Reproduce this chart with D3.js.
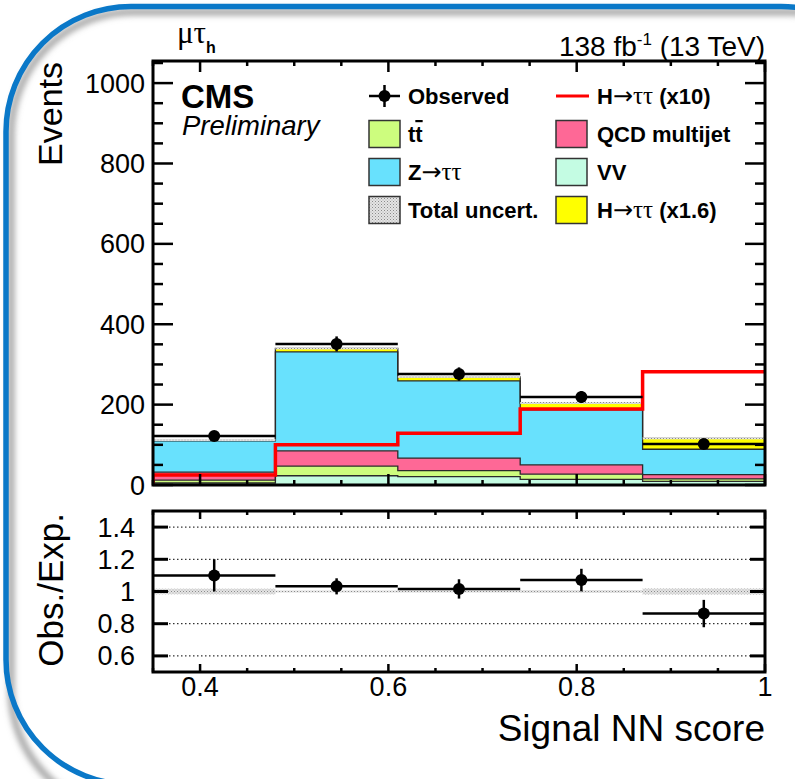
<!DOCTYPE html>
<html>
<head>
<meta charset="utf-8">
<script src="https://cdn.jsdelivr.net/npm/d3@7"></script>
<style>
  html, body { margin: 0; padding: 0; background: #fff; }
  svg { display: block; font-family: "Liberation Sans", Arial, sans-serif; }
</style>
</head>
<body>
<div id="chart"></div>
<script>
// bin edges of the signal NN score
const binEdges = [0.35, 0.48, 0.61, 0.74, 0.87, 1.0];

// stacked expectation per bin (events)
const vv     = [5, 23, 21, 14, 9];
const ttbar  = [7, 24, 15, 13, 6];
const qcd    = [20, 38, 31, 23, 11];
const ztt    = [78, 246, 192, 137, 63];
const higgs  = [2, 9, 10, 17, 27];     // H->tautau (x1.6), stacked
const higgsX10 = [25, 100, 129, 189, 282]; // H->tautau (x10), line
const relUnc = [0.02, 0.008, 0.008, 0.01, 0.02];

// observed
const observed = [122, 351, 276, 219, 102];

// ratio panel
const ratio    = [1.10, 1.032, 1.016, 1.071, 0.863];
const ratioErr = [0.10, 0.05, 0.06, 0.07, 0.085];
const ratioUnc = [0.017, 0.006, 0.006, 0.008, 0.018];

const yTicksMain  = [0, 200, 400, 600, 800, 1000];
const yTicksRatio = [0.6, 0.8, 1, 1.2, 1.4];
const xTicks      = [0.4, 0.6, 0.8, 1];

const colors = { VV: "#c4fce3", tt: "#cdfd7e", QCD: "#fe6896", Z: "#68e1fd", H: "#ffff00" };

const W = 795, H = 779;
const svg = d3.select("#chart").append("svg").attr("width", W).attr("height", H);
const defs = svg.append("defs");

// hatch pattern for the uncertainty
const pat = defs.append("pattern").attr("id", "hatch").attr("patternUnits", "userSpaceOnUse")
  .attr("width", 3).attr("height", 3);
pat.append("rect").attr("width", 3).attr("height", 3).attr("fill", "#e4e4e4");
pat.append("rect").attr("width", 1).attr("height", 1).attr("fill", "#8a8a8a");
pat.append("rect").attr("x", 1.5).attr("y", 1.5).attr("width", 1).attr("height", 1).attr("fill", "#a8a8a8");

// frame with shadow (runs off the right and bottom edges)
const blur = defs.append("filter").attr("id", "blur").attr("x", "-10%").attr("y", "-10%").attr("width", "120%").attr("height", "120%");
blur.append("feGaussianBlur").attr("stdDeviation", 3);
svg.append("rect").attr("x", 11).attr("y", 12).attr("width", 900).attr("height", 800).attr("rx", 122)
  .attr("fill", "none").attr("stroke", "#9a9a9a").attr("stroke-width", 6).attr("filter", "url(#blur)");
svg.append("rect").attr("x", 6).attr("y", 6.5).attr("width", 900).attr("height", 778).attr("rx", 125)
  .attr("fill", "none").attr("stroke", "#0a78c8").attr("stroke-width", 5.5);

const x0 = 153, x1 = 765;
const x = d3.scaleLinear().domain([0.35, 1.0]).range([x0, x1]);
const y = d3.scaleLinear().domain([0, 1055]).range([485, 61]);
const yr = d3.scaleLinear().domain([0.5, 1.5]).range([672, 511]);

const main = svg.append("g");
defs.append("clipPath").attr("id", "clipMain").append("rect")
  .attr("x", x0).attr("y", 61).attr("width", x1 - x0).attr("height", 485 - 61);
const plot = main.append("g").attr("clip-path", "url(#clipMain)");

// stack
const bins = binEdges.slice(0, -1).map((lo, i) => ({
  lo, VV: vv[i], tt: ttbar[i], QCD: qcd[i], Z: ztt[i], H: higgs[i]
}));
const keys = ["VV", "tt", "QCD", "Z", "H"];
const series = d3.stack().keys(keys)(bins);
const stepPts = s => s.map((d, i) => ({ x: bins[i].lo, y0: d[0], y1: d[1] }))
  .concat({ x: 1.0, y0: s[s.length - 1][0], y1: s[s.length - 1][1] });

const area = d3.area().x(d => x(d.x)).y0(d => y(d.y0)).y1(d => y(d.y1)).curve(d3.curveStepAfter);
const topLine = d3.line().x(d => x(d.x)).y(d => y(d.y1)).curve(d3.curveStepAfter);

series.forEach(s => {
  plot.append("path").attr("d", area(stepPts(s))).attr("fill", colors[s.key]);
});
series.forEach(s => {
  plot.append("path").attr("d", topLine(stepPts(s))).attr("fill", "none")
    .attr("stroke", "#2a2a2a").attr("stroke-width", 1.3);
});

// uncertainty band on total
const totals = bins.map((b, i) => series[series.length - 1][i][1]);
totals.forEach((t, i) => {
  const u = Math.max(t * relUnc[i], 2.5);
  plot.append("rect").attr("x", x(binEdges[i])).attr("width", x(binEdges[i + 1]) - x(binEdges[i]))
    .attr("y", y(t + u)).attr("height", y(t - u) - y(t + u)).attr("fill", "url(#hatch)");
});

// signal x10 line
const sigPts = [{ x: 0.35, v: 0 }].concat(higgsX10.map((v, i) => ({ x: binEdges[i], v })))
  .concat({ x: 1.0, v: higgsX10[higgsX10.length - 1] });
plot.append("path")
  .attr("d", d3.line().x(d => x(d.x)).y(d => y(d.v)).curve(d3.curveStepAfter)(sigPts))
  .attr("fill", "none").attr("stroke", "#ff0000").attr("stroke-width", 3.5);

// observed data
observed.forEach((n, i) => {
  const cx = x((binEdges[i] + binEdges[i + 1]) / 2);
  const e = Math.sqrt(n);
  plot.append("line").attr("x1", x(binEdges[i])).attr("x2", x(binEdges[i + 1]))
    .attr("y1", y(n)).attr("y2", y(n)).attr("stroke", "#000").attr("stroke-width", 2.5);
  plot.append("line").attr("x1", cx).attr("x2", cx).attr("y1", y(n - e)).attr("y2", y(n + e))
    .attr("stroke", "#000").attr("stroke-width", 2.5);
  plot.append("circle").attr("cx", cx).attr("cy", y(n)).attr("r", 6).attr("fill", "#000");
});

// main frame and ticks
function xTickMarks(g, yb, yt, major, minor) {
  d3.range(0.35, 1.0001, 0.05).forEach(v => {
    const isMajor = xTicks.some(t => Math.abs(t - v) < 1e-6);
    const len = isMajor ? major : minor;
    const px = x(v);
    g.append("line").attr("x1", px).attr("x2", px).attr("y1", yb).attr("y2", yb - len)
      .attr("stroke", "#000").attr("stroke-width", 2.5);
    g.append("line").attr("x1", px).attr("x2", px).attr("y1", yt).attr("y2", yt + len)
      .attr("stroke", "#000").attr("stroke-width", 2.5);
  });
}
xTickMarks(main, 485, 61, 11, 5);
d3.range(0, 1051, 50).forEach(v => {
  const isMajor = v % 200 === 0;
  const len = isMajor ? 20 : 10;
  main.append("line").attr("x1", x0).attr("x2", x0 + len).attr("y1", y(v)).attr("y2", y(v))
    .attr("stroke", "#000").attr("stroke-width", 2.5);
  main.append("line").attr("x1", x1).attr("x2", x1 - len).attr("y1", y(v)).attr("y2", y(v))
    .attr("stroke", "#000").attr("stroke-width", 2.5);
});
main.append("rect").attr("x", x0).attr("y", 61).attr("width", x1 - x0).attr("height", 485 - 61)
  .attr("fill", "none").attr("stroke", "#000").attr("stroke-width", 3);
main.selectAll("text.ytick").data(yTicksMain).enter().append("text")
  .attr("x", 145).attr("y", d => y(d) + 9.5).attr("text-anchor", "end")
  .attr("font-size", 27).text(d => d);

// ratio panel
const rp = svg.append("g");
yTicksRatio.forEach(v => {
  rp.append("line").attr("x1", x0).attr("x2", x1).attr("y1", yr(v)).attr("y2", yr(v))
    .attr("stroke", v === 1 ? "#888" : "#000").attr("stroke-width", 1)
    .attr("stroke-dasharray", "1.5,2.5");
});
ratioUnc.forEach((u, i) => {
  const uu = Math.max(u, 0.004);
  rp.append("rect").attr("x", x(binEdges[i])).attr("width", x(binEdges[i + 1]) - x(binEdges[i]))
    .attr("y", yr(1 + uu)).attr("height", yr(1 - uu) - yr(1 + uu)).attr("fill", "url(#hatch)");
});
ratio.forEach((r, i) => {
  const cx = x((binEdges[i] + binEdges[i + 1]) / 2);
  rp.append("line").attr("x1", x(binEdges[i])).attr("x2", x(binEdges[i + 1]))
    .attr("y1", yr(r)).attr("y2", yr(r)).attr("stroke", "#000").attr("stroke-width", 2.5);
  rp.append("line").attr("x1", cx).attr("x2", cx).attr("y1", yr(r - ratioErr[i])).attr("y2", yr(r + ratioErr[i]))
    .attr("stroke", "#000").attr("stroke-width", 2.5);
  rp.append("circle").attr("cx", cx).attr("cy", yr(r)).attr("r", 6).attr("fill", "#000");
});
xTickMarks(rp, 672, 511, 8, 4);
yTicksRatio.forEach(v => {
  rp.append("line").attr("x1", x0).attr("x2", x0 + 15).attr("y1", yr(v)).attr("y2", yr(v))
    .attr("stroke", "#000").attr("stroke-width", 3);
  rp.append("line").attr("x1", x1).attr("x2", x1 - 15).attr("y1", yr(v)).attr("y2", yr(v))
    .attr("stroke", "#000").attr("stroke-width", 3);
});
rp.append("rect").attr("x", x0).attr("y", 511).attr("width", x1 - x0).attr("height", 672 - 511)
  .attr("fill", "none").attr("stroke", "#000").attr("stroke-width", 3);
rp.selectAll("text.ytick").data(yTicksRatio).enter().append("text")
  .attr("x", 135).attr("y", d => yr(d) + 9.5).attr("text-anchor", "end")
  .attr("font-size", 27).text(d => d);
rp.selectAll("text.xtick").data(xTicks).enter().append("text")
  .attr("x", d => x(d)).attr("y", 696).attr("text-anchor", "middle")
  .attr("font-size", 27).text(d => d);

// axis titles
svg.append("text").attr("transform", "translate(62,62) rotate(-90)").attr("text-anchor", "end")
  .attr("font-size", 34).text("Events");
svg.append("text").attr("transform", "translate(63,513) rotate(-90)").attr("text-anchor", "end")
  .attr("font-size", 35).text("Obs./Exp.");
svg.append("text").attr("x", 765).attr("y", 741).attr("text-anchor", "end")
  .attr("font-size", 37).text("Signal NN score");

// header texts
const lumi = svg.append("text").attr("x", 765).attr("y", 56).attr("text-anchor", "end").attr("font-size", 28);
lumi.append("tspan").text("138 fb");
lumi.append("tspan").attr("font-size", 17).attr("dy", -11).text("-1");
lumi.append("tspan").attr("dy", 11).text(" (13 TeV)");

const ch = svg.append("text").attr("x", 177).attr("y", 43);
ch.append("tspan").attr("font-family", "Liberation Serif, serif").attr("font-size", 31).text("μτ");
ch.append("tspan").attr("font-weight", "bold").attr("font-size", 16).attr("dy", 10).text("h");

svg.append("text").attr("x", 181).attr("y", 108).attr("font-weight", "bold").attr("font-size", 33).text("CMS");
svg.append("text").attr("x", 182).attr("y", 135).attr("font-style", "italic").attr("font-size", 27.5).text("Preliminary");

// legend
const leg = svg.append("g").attr("font-size", 22).attr("font-weight", "bold");
const rowY = [96, 134, 172, 210];
const col1 = { bx: 369, tx: 408 }, col2 = { bx: 556, tx: 597 };
const boxW = 31, boxH = 27;

function arrowLabel(t, pre, post) {
  t.append("tspan").text(pre);
  t.append("tspan").attr("font-weight", "normal").attr("font-family", "DejaVu Sans, sans-serif")
    .attr("font-size", 24).text("→");
  t.append("tspan").attr("font-weight", "normal").attr("font-family", "Liberation Serif, serif").attr("font-size", 25).text("ττ");
  if (post) t.append("tspan").text(post);
}
function box(cx, cy, fill) {
  leg.append("rect").attr("x", cx).attr("y", cy - boxH / 2).attr("width", boxW).attr("height", boxH)
    .attr("fill", fill).attr("stroke", "#333").attr("stroke-width", 1.5);
}

// observed
const oc = col1.bx + boxW / 2;
leg.append("line").attr("x1", col1.bx).attr("x2", col1.bx + boxW).attr("y1", rowY[0]).attr("y2", rowY[0])
  .attr("stroke", "#000").attr("stroke-width", 2.5);
leg.append("line").attr("x1", oc).attr("x2", oc).attr("y1", rowY[0] - 11).attr("y2", rowY[0] + 11)
  .attr("stroke", "#000").attr("stroke-width", 2.5);
leg.append("circle").attr("cx", oc).attr("cy", rowY[0]).attr("r", 6).attr("fill", "#000");
leg.append("text").attr("x", col1.tx).attr("y", rowY[0] + 8).text("Observed");

box(col1.bx, rowY[1], colors.tt);
const ttT = leg.append("text").attr("x", col1.tx).attr("y", rowY[1] + 8);
ttT.append("tspan").text("t");
ttT.append("tspan").style("text-decoration", "overline").text("t");

box(col1.bx, rowY[2], colors.Z);
arrowLabel(leg.append("text").attr("x", col1.tx).attr("y", rowY[2] + 8), "Z", "");

box(col1.bx, rowY[3], "url(#hatch)");
leg.append("text").attr("x", col1.tx).attr("y", rowY[3] + 8).text("Total uncert.");

leg.append("line").attr("x1", col2.bx).attr("x2", col2.bx + boxW + 2).attr("y1", rowY[0]).attr("y2", rowY[0])
  .attr("stroke", "#ff0000").attr("stroke-width", 3);
arrowLabel(leg.append("text").attr("x", col2.tx).attr("y", rowY[0] + 8), "H", " (x10)");

box(col2.bx, rowY[1], colors.QCD);
leg.append("text").attr("x", col2.tx).attr("y", rowY[1] + 8).text("QCD multijet");

box(col2.bx, rowY[2], colors.VV);
leg.append("text").attr("x", col2.tx).attr("y", rowY[2] + 8).text("VV");

box(col2.bx, rowY[3], colors.H);
arrowLabel(leg.append("text").attr("x", col2.tx).attr("y", rowY[3] + 8), "H", " (x1.6)");
</script>
</body>
</html>
